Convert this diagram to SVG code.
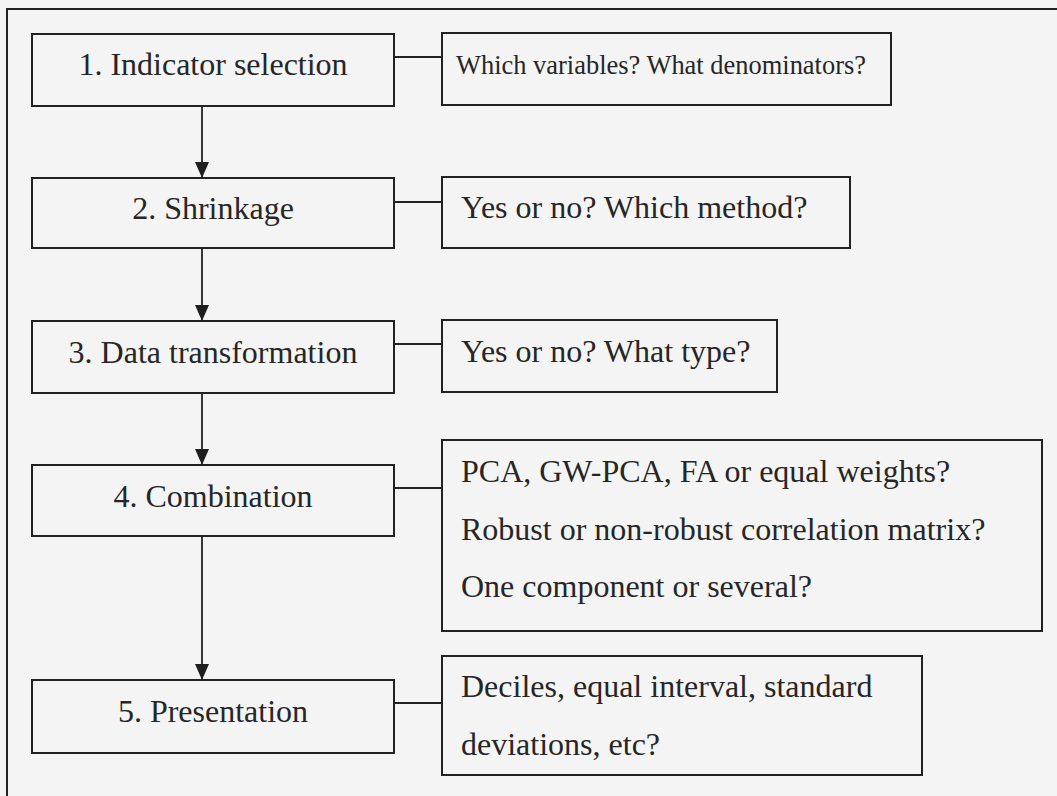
<svg xmlns="http://www.w3.org/2000/svg" width="1057" height="796" viewBox="0 0 1057 796">
  <defs>
    <marker id="arrow" viewBox="0 0 16 14" refX="16" refY="7" markerWidth="16" markerHeight="14" markerUnits="userSpaceOnUse" orient="auto">
      <path d="M0,0 L16,7 L0,14 Z" fill="#1e1e1e"/>
    </marker>
    <style>
      .box { fill: none; stroke: #222; stroke-width: 2; }
      .frame { fill: none; stroke: #222; stroke-width: 2; }
      .link { fill: none; stroke: #222; stroke-width: 1.8; }
      .step { font-family: "Liberation Serif", "Times New Roman", serif; font-size: 32px; fill: #262626; text-anchor: middle; }
      .note { font-family: "Liberation Serif", "Times New Roman", serif; font-size: 32px; fill: #262626; }
      .note.small { font-size: 27px; }
    </style>
  </defs>

  <rect x="0" y="0" width="1057" height="796" fill="#f4f4f4"/>
  <!-- outer frame, running off the right and bottom edges -->
  <rect class="frame" x="7" y="9" width="1070" height="800"/>

  <g id="connectors">
    <!-- step to step arrows -->
    <line class="link" x1="202" y1="106" x2="202" y2="178" marker-end="url(#arrow)"/>
    <line class="link" x1="202" y1="248" x2="202" y2="321" marker-end="url(#arrow)"/>
    <line class="link" x1="202" y1="393" x2="202" y2="465" marker-end="url(#arrow)"/>
    <line class="link" x1="202" y1="536" x2="202" y2="680" marker-end="url(#arrow)"/>
    <!-- step to question links -->
    <line class="link" x1="394" y1="57" x2="442" y2="57"/>
    <line class="link" x1="394" y1="202" x2="442" y2="202"/>
    <line class="link" x1="394" y1="344" x2="442" y2="344"/>
    <line class="link" x1="394" y1="488" x2="442" y2="488"/>
    <line class="link" x1="394" y1="703" x2="442" y2="703"/>
  </g>

  <g id="step1">
    <rect class="box" x="32" y="34" width="362" height="72"/>
    <text class="step" x="213" y="75">1. Indicator selection</text>
  </g>
  <g id="step2">
    <rect class="box" x="32" y="178" width="362" height="70"/>
    <text class="step" x="213" y="219">2. Shrinkage</text>
  </g>
  <g id="step3">
    <rect class="box" x="32" y="321" width="362" height="72"/>
    <text class="step" x="213" y="363">3. Data transformation</text>
  </g>
  <g id="step4">
    <rect class="box" x="32" y="465" width="362" height="71"/>
    <text class="step" x="213" y="507">4. Combination</text>
  </g>
  <g id="step5">
    <rect class="box" x="32" y="680" width="362" height="73"/>
    <text class="step" x="213" y="722">5. Presentation</text>
  </g>

  <g id="q1">
    <rect class="box" x="442" y="33" width="449" height="72"/>
    <text class="note small" x="456" y="74" textLength="410" lengthAdjust="spacingAndGlyphs">Which variables? What denominators?</text>
  </g>
  <g id="q2">
    <rect class="box" x="442" y="177" width="408" height="71"/>
    <text class="note" x="461" y="218">Yes or no? Which method?</text>
  </g>
  <g id="q3">
    <rect class="box" x="442" y="320" width="335" height="72"/>
    <text class="note" x="461" y="362">Yes or no? What type?</text>
  </g>
  <g id="q4">
    <rect class="box" x="442" y="440" width="600" height="191"/>
    <text class="note" x="461" y="482">PCA, GW-PCA, FA or equal weights?</text>
    <text class="note" x="461" y="540">Robust or non-robust correlation matrix?</text>
    <text class="note" x="461" y="597">One component or several?</text>
  </g>
  <g id="q5">
    <rect class="box" x="442" y="656" width="480" height="119"/>
    <text class="note" x="461" y="697">Deciles, equal interval, standard</text>
    <text class="note" x="461" y="755">deviations, etc?</text>
  </g>
</svg>
